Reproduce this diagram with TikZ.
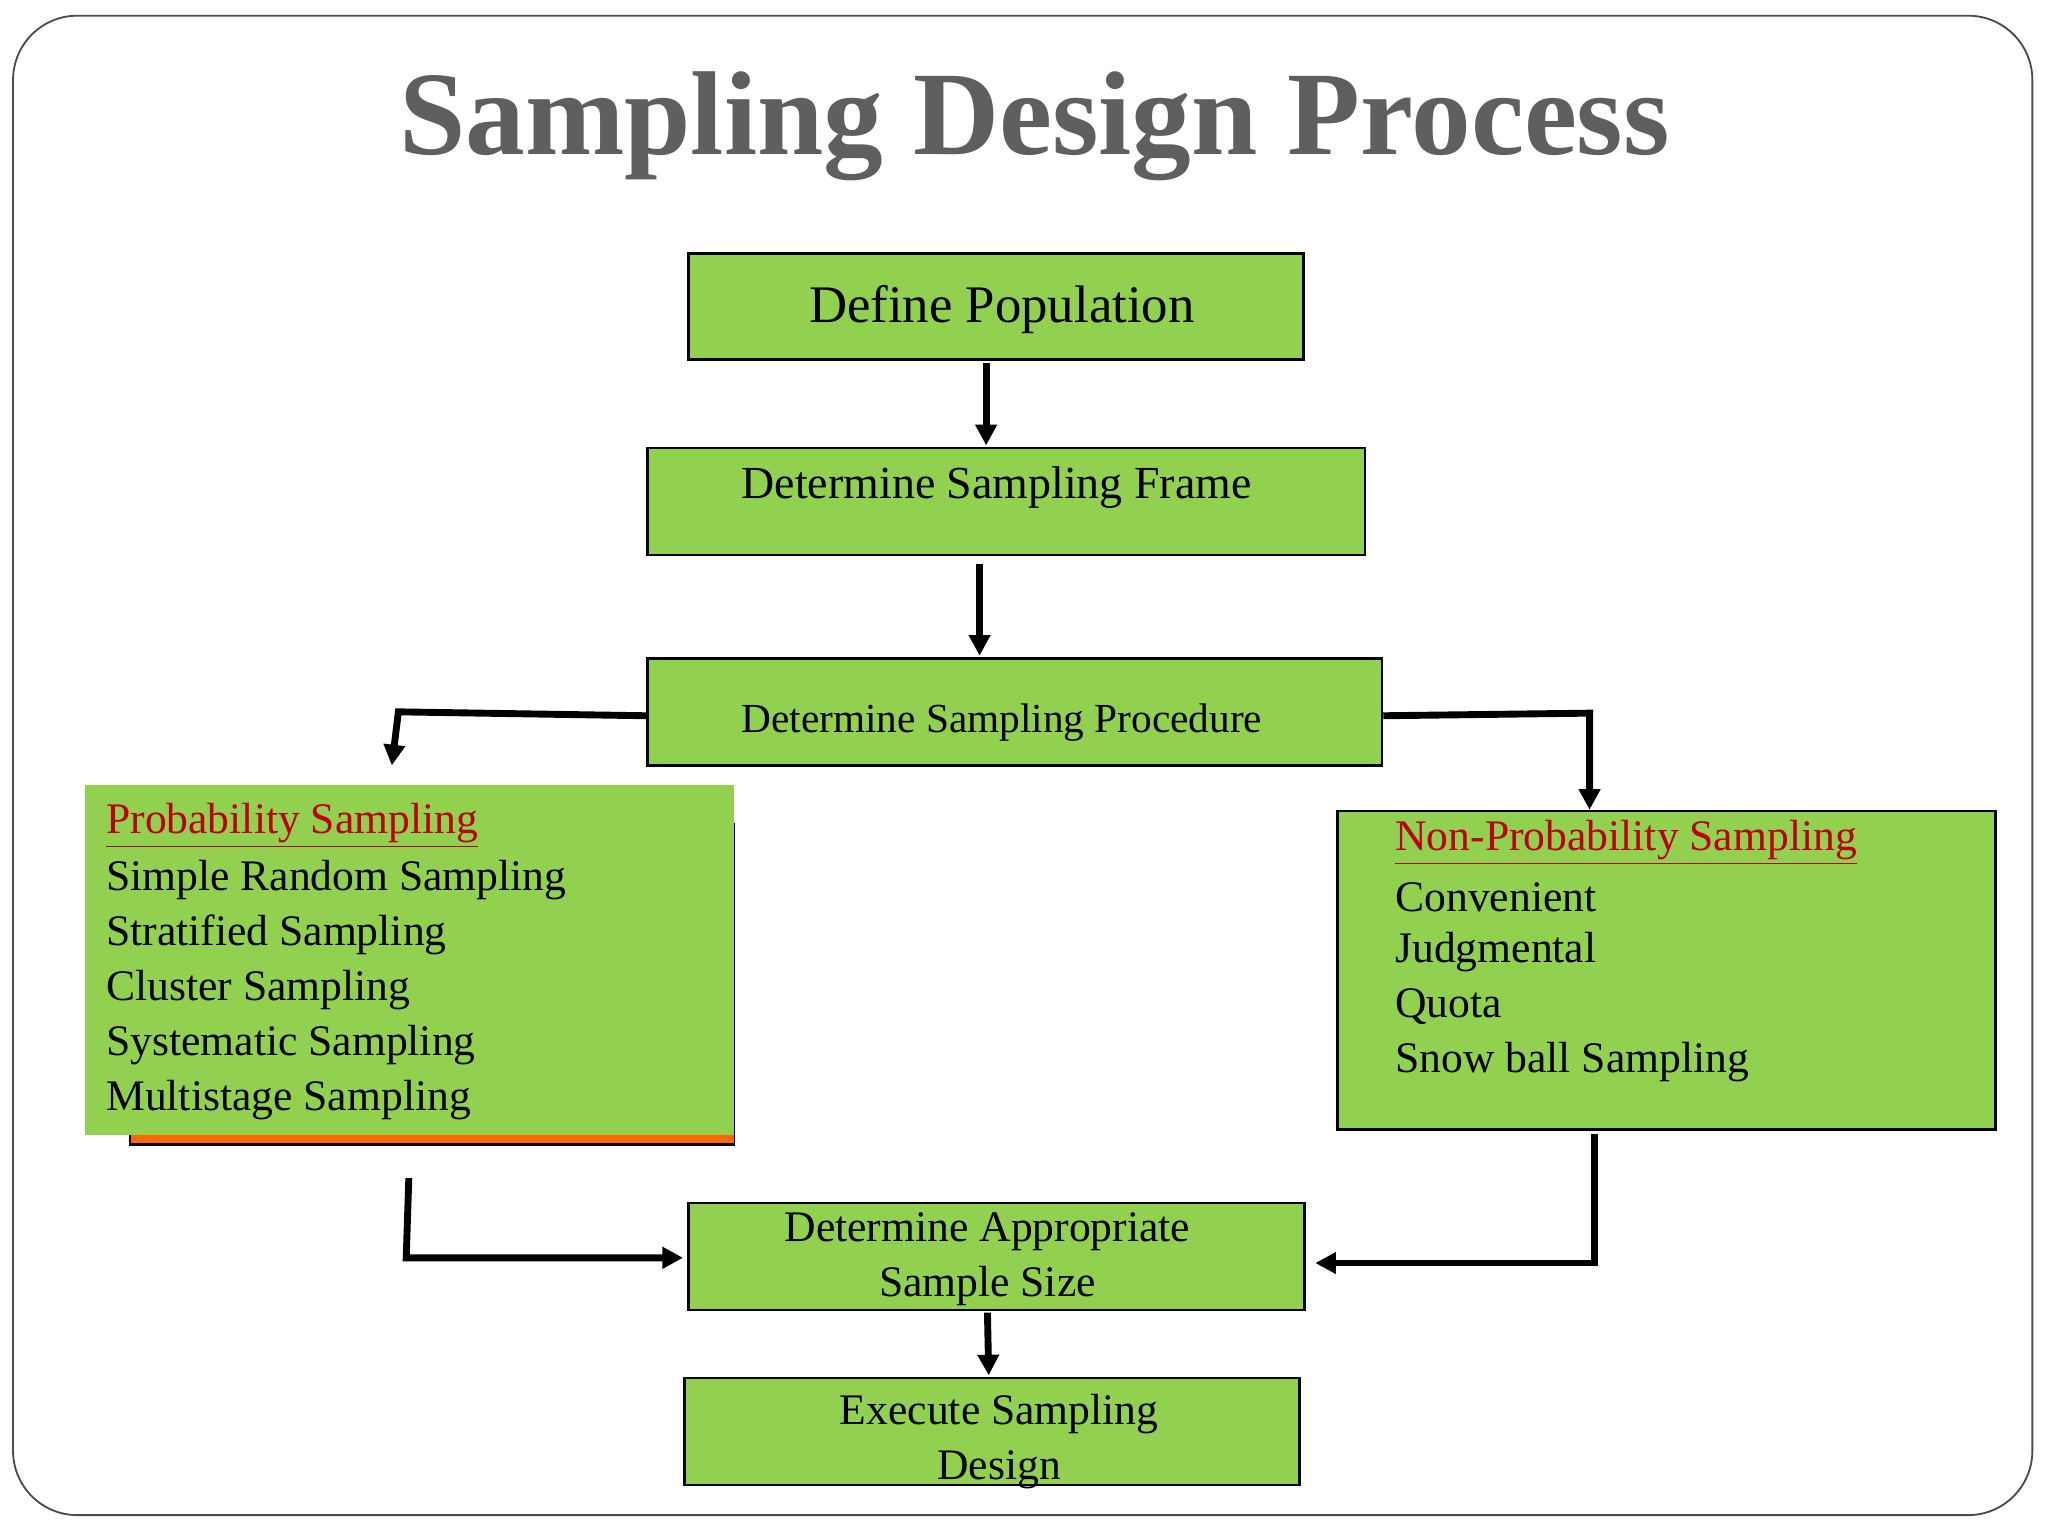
\documentclass[tikz,border=0pt]{standalone}
\usepackage{fontspec}
\setmainfont{Liberation Serif}
\usetikzlibrary{arrows.meta}
\definecolor{gr}{HTML}{92D050}
\definecolor{tgray}{HTML}{5F5F5F}
\definecolor{red1}{HTML}{C00000}
\begin{document}
\begin{tikzpicture}[x=0.02cm,y=-0.02cm,
  box/.style={draw=black,line width=1.2pt,fill=gr},
  arr/.style={line width=3pt,-{Triangle[length=9pt,width=9pt]}},
  t/.style={inner sep=0,font=\fontsize{#1}{#1}\selectfont},
  t/.default=19]
\useasboundingbox (0,0) rectangle (1568,1176);
\draw[rounded corners=28pt,line width=0.8pt,draw=black!70] (10,12) rectangle (1556,1160);
\node[t=52,text=tgray,font=\bfseries\fontsize{52}{52}\selectfont] (title) at (792,97) {Sampling Design Process};
\node[box,minimum width=471*0.02cm,minimum height=81*0.02cm] (b1) at (762.5,234.5) {};
\node[t=23] at (767,237) {Define Population};
\node[box,minimum width=549*0.02cm,minimum height=82*0.02cm] (b2) at (770.5,384) {};
\node[t=20] at (763,373) {Determine Sampling Frame};
\node[box,minimum width=562*0.02cm,minimum height=82*0.02cm] (b3) at (777,545) {};
\node[t=18] at (767,553) {Determine Sampling Procedure};
% left box with shadow
\draw[line width=1.2pt] (562,630) -- (562,876) -- (100,876) -- (100,869);
\fill[orange!80!red] (100,869) rectangle (562,875);
\fill[gr] (65,601) rectangle (562,869);
\node[inner sep=0] (pl) at (313,735) {};
\node[t,anchor=west,text=red1] at (81,632) {\underline{Probability Sampling}};
\node[t,anchor=west] at (81,674) {Simple Random Sampling};
\node[t,anchor=west] at (81,716) {Stratified Sampling};
\node[t,anchor=west] at (81,758) {Cluster Sampling};
\node[t,anchor=west] at (81,800) {Systematic Sampling};
\node[t,anchor=west] at (81,842) {Multistage Sampling};
\node[box,minimum width=504*0.02cm,minimum height=244*0.02cm] (rb) at (1276,743) {};
\node[t,anchor=west,text=red1] at (1068,645) {\underline{Non-Probability Sampling}};
\node[t,anchor=west] at (1068,687) {Convenient};
\node[t,anchor=west] at (1068,729) {Judgmental};
\node[t,anchor=west] at (1068,771) {Quota};
\node[t,anchor=west] at (1068,813) {Snow ball Sampling};
\node[box,minimum width=472*0.02cm,minimum height=82*0.02cm] (b4) at (763,962) {};
\node[t=19,align=center,font=\fontsize{19}{24}\selectfont] at (756,964) {Determine Appropriate\\Sample Size};
\node[box,minimum width=471*0.02cm,minimum height=82*0.02cm] (b5) at (759.5,1096) {};
\node[t=19,align=center,font=\fontsize{19}{24}\selectfont] at (765,1104) {Execute Sampling\\Design};
% arrows
\coordinate (a1) at (755,278); \coordinate (a1e) at (755,341);
\draw[arr] (a1) -- (a1e);
\coordinate (a2) at (750,432); \coordinate (a2e) at (750,502);
\draw[arr] (a2) -- (a2e);
\coordinate (l1) at (305,545); \coordinate (l2) at (300,586);
\draw[arr] (b3.west |- 0,548) -- (l1) -- (l2);
\coordinate (r1) at (1217,546); \coordinate (r2) at (1217,620);
\draw[arr] (b3.east |- 0,548) -- (r1) -- (r2);
\coordinate (p1) at (313,902); \coordinate (p2) at (311,963); \coordinate (p3) at (523,963);
\draw[arr] (p1) -- (p2) -- (p3);
\coordinate (q1) at (1221,868); \coordinate (q2) at (1221,967); \coordinate (q3) at (1007,967);
\draw[arr] (q1) -- (q2) -- (q3);
\coordinate (s1) at (756,1005); \coordinate (s2) at (757,1053);
\draw[arr] (s1) -- (s2);
\end{tikzpicture}
\end{document}
